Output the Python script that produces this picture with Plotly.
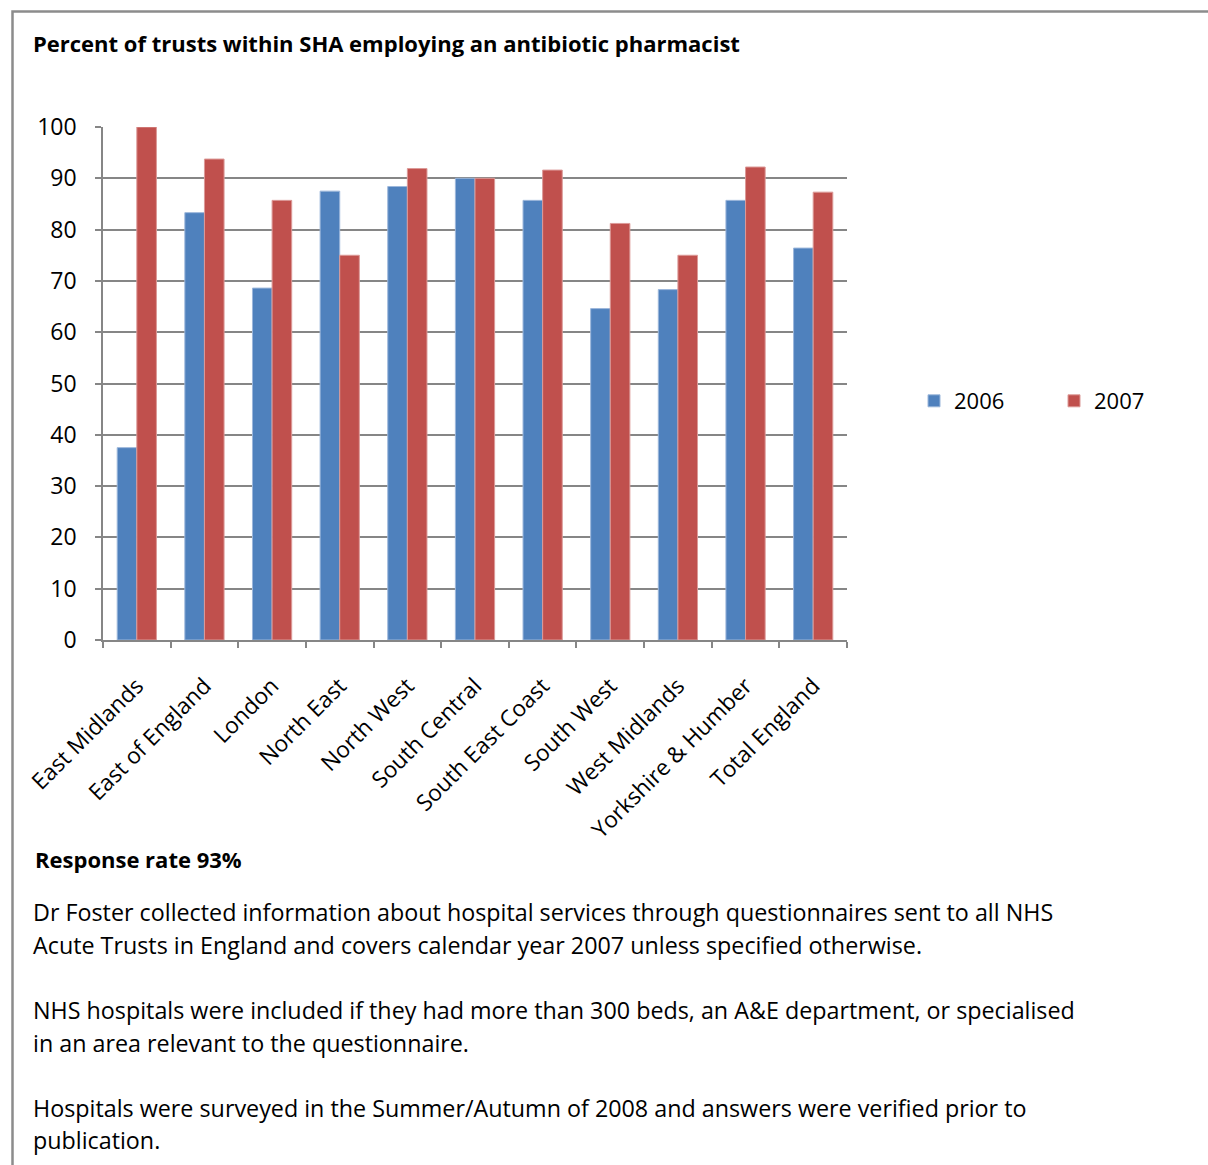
import plotly.graph_objects as go

# Strategic Health Authorities plus the national total
regions = [
    "East Midlands", "East of England", "London", "North East", "North West",
    "South Central", "South East Coast", "South West", "West Midlands",
    "Yorkshire & Humber", "Total England",
]
pct_2006 = [37.5, 83.3, 68.6, 87.5, 88.4, 90.0, 85.7, 64.6, 68.3, 85.7, 76.4]
pct_2007 = [100.0, 93.75, 85.7, 75.0, 91.9, 90.0, 91.6, 81.2, 75.0, 92.2, 87.3]
y_ticks = [0, 10, 20, 30, 40, 50, 60, 70, 80, 90, 100]

title_text = "Percent of trusts within SHA employing an antibiotic pharmacist"
note_heading = "Response rate 93%"
note_lines = [
    "Dr Foster collected information about hospital services through questionnaires sent to all NHS",
    "Acute Trusts in England and covers calendar year 2007 unless specified otherwise.",
    "NHS hospitals were included if they had more than 300 beds, an A&E department, or specialised",
    "in an area relevant to the questionnaire.",
    "Hospitals were surveyed in the Summer/Autumn of 2008 and answers were verified prior to",
    "publication.",
]

W, H = 1208, 1165
PL, PR, PT, PB = 103, 847, 127, 640  # plot area in pixels
FONT = "Open Sans, sans-serif"
GRID = "#868686"


def px_x(x):
    return (x - PL) / (PR - PL)


def px_y(y):
    return (PB - y) / (PB - PT)


fig = go.Figure()
fig.add_trace(go.Bar(
    x=regions, y=pct_2006, name="2006",
    marker=dict(color="#4F81BD", line=dict(color="#9cb7db", width=1)),
))
fig.add_trace(go.Bar(
    x=regions, y=pct_2007, name="2007",
    marker=dict(color="#C0504D", line=dict(color="#dc9a98", width=1)),
))

fig.update_layout(
    width=W, height=H,
    margin=dict(l=PL, r=W - PR, t=PT, b=H - PB, pad=0, autoexpand=False),
    paper_bgcolor="white", plot_bgcolor="white",
    barmode="group", bargap=0.42, bargroupgap=0,
    font=dict(family=FONT, color="black", size=22),
    showlegend=True,
    legend=dict(
        orientation="h", x=px_x(914), y=px_y(401), xanchor="left", yanchor="middle",
        font=dict(size=22, family=FONT), entrywidth=95, entrywidthmode="pixels",
        itemwidth=30, bgcolor="rgba(0,0,0,0)", traceorder="normal",
    ),
)

fig.update_yaxes(
    range=[0, 100], tickvals=y_ticks, showgrid=True, gridcolor=GRID, gridwidth=1.5,
    showline=True, linecolor=GRID, linewidth=1.5, ticks="outside", ticklen=6,
    tickcolor=GRID, tickwidth=1.5, tickfont=dict(size=23, family=FONT),
    zeroline=False, ticklabelstandoff=14,
)
fig.update_xaxes(
    showline=True, linecolor=GRID, linewidth=1.5, ticks="outside", ticklen=6,
    tickcolor=GRID, tickwidth=1.5, tickson="boundaries", tickangle=-45,
    tickfont=dict(size=22.6, family=FONT), showgrid=False, ticklabelstandoff=22,
)

annotations = [
    dict(text="<b>" + title_text + "</b>", x=px_x(31), y=px_y(43),
         font=dict(size=22, family=FONT)),
    dict(text="<b>" + note_heading + "</b>", x=px_x(33), y=px_y(859),
         font=dict(size=22, family=FONT)),
]
line_y = [912, 945, 1010, 1043, 1108, 1140]
for txt, yy in zip(note_lines, line_y):
    annotations.append(dict(text=txt, x=px_x(31), y=px_y(yy), font=dict(size=23.3, family=FONT)))
for a in annotations:
    a.update(xref="paper", yref="paper", xanchor="left", yanchor="middle",
             showarrow=False, align="left")
fig.update_layout(annotations=annotations)

# frame around the chart and notes
fig.add_shape(
    type="path", xref="paper", yref="paper",
    path=f"M {px_x(12.5)} {px_y(H + 5)} L {px_x(12.5)} {px_y(11.5)} L {px_x(W + 5)} {px_y(11.5)}",
    line=dict(color="#8c8c8c", width=2.5),
)

fig.write_html("out.html")
